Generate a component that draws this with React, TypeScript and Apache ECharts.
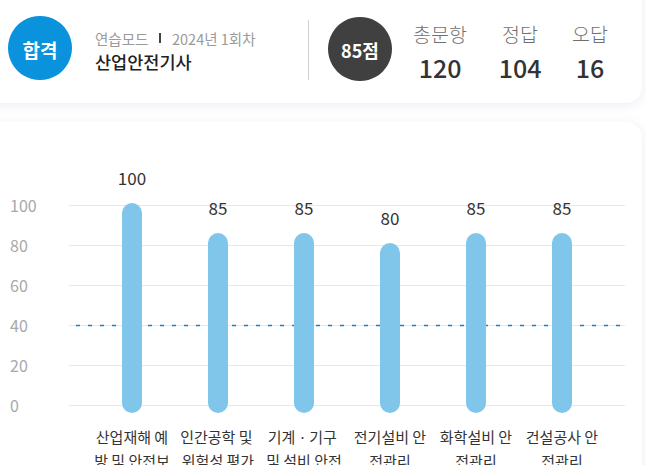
import React, { useEffect, useRef } from "react";
import * as echarts from "echarts";

const FONT = "'Noto Sans CJK KR', 'Noto Sans', sans-serif";

const categories = [
  "산업재해 예방 및 안전보건교육",
  "인간공학 및 위험성 평가ㆍ관리",
  "기계ㆍ기구 및 설비 안전관리",
  "전기설비 안전관리",
  "화학설비 안전관리",
  "건설공사 안전관리",
];
const scores = [100, 85, 85, 80, 85, 85];
const yMin = 0;
const yMax = 100;
const yInterval = 20;
const passLine = 40;

const resultText = "합격";
const modeText = "연습모드";
const roundText = "2024년 1회차";
const examTitle = "산업안전기사";
const scoreText = "85점";
const summaryLabels = ["총문항", "정답", "오답"];
const summaryValues = [120, 104, 16];
const summaryX = [440, 520, 590];

export default function App() {
  const ref = useRef<HTMLDivElement>(null);

  useEffect(() => {
    if (!ref.current) return;
    const chart = echarts.init(ref.current, undefined, { renderer: "svg" });

    const headerGraphics: any[] = [
      { type: "circle", shape: { cx: 40, cy: 48, r: 32 }, style: { fill: "#0a93dc" } },
      {
        type: "text", x: 40, y: 49,
        style: { text: resultText, fill: "#fff", fontSize: 19, fontWeight: "bold", fontFamily: FONT, align: "center", verticalAlign: "middle" },
      },
      {
        type: "text", x: 95, y: 38,
        style: { text: modeText, fill: "#9a9a9a", fontSize: 14.5, fontFamily: FONT, align: "left", verticalAlign: "middle" },
      },
      { type: "rect", shape: { x: 159, y: 33, width: 2, height: 10 }, style: { fill: "#444" } },
      {
        type: "text", x: 172, y: 38,
        style: { text: roundText, fill: "#9a9a9a", fontSize: 14.5, fontFamily: FONT, align: "left", verticalAlign: "middle" },
      },
      {
        type: "text", x: 95, y: 61,
        style: { text: examTitle, fill: "#222", fontSize: 17.5, fontWeight: 500, fontFamily: FONT, align: "left", verticalAlign: "middle" },
      },
      { type: "rect", shape: { x: 308, y: 20, width: 1, height: 60 }, style: { fill: "#d0d0d0" } },
      { type: "circle", shape: { cx: 360, cy: 49, r: 32 }, style: { fill: "#404040" } },
      {
        type: "text", x: 360, y: 50,
        style: { text: scoreText, fill: "#fff", fontSize: 18, fontWeight: "bold", fontFamily: FONT, align: "center", verticalAlign: "middle" },
      },
    ];
    summaryLabels.forEach((lab, i) => {
      headerGraphics.push({
        type: "text", x: summaryX[i], y: 33,
        style: { text: lab, fill: "#707070", fontSize: 19.5, fontWeight: 300, fontFamily: FONT, align: "center", verticalAlign: "middle" },
      });
      headerGraphics.push({
        type: "text", x: summaryX[i], y: 67,
        style: { text: String(summaryValues[i]), fill: "#333", fontSize: 25, fontWeight: 500, fontFamily: FONT, align: "center", verticalAlign: "middle" },
      });
    });

    const gridBase = { top: 205, bottom: 60, outerBoundsMode: "none", containLabel: false };

    const option: any = {
      animation: false,
      textStyle: { fontFamily: FONT },
      graphic: { elements: headerGraphics },
      grid: [
        { ...gridBase, left: 69, right: 21 },
        { ...gridBase, left: 89, right: 41 },
        { ...gridBase, top: 205.5, bottom: 59.5, left: 76, right: 21 },
      ],
      xAxis: [
        { gridIndex: 0, type: "value", min: 0, max: 1, show: false },
        {
          gridIndex: 1, type: "category", data: categories,
          axisLine: { show: false }, axisTick: { show: false },
          axisLabel: {
            interval: 0, width: 84, overflow: "break", fontSize: 15, lineHeight: 24,
            color: "#333", margin: 19, fontFamily: FONT,
          },
        },
        { gridIndex: 2, type: "value", min: 0, max: 1, show: false },
      ],
      yAxis: [
        {
          gridIndex: 0, type: "value", min: yMin, max: yMax, interval: yInterval,
          axisLine: { show: false }, axisTick: { show: false },
          splitLine: { lineStyle: { color: "#e8e8e8", width: 1 } },
          axisLabel: { align: "left", margin: 59, color: "#a8a8a8", fontSize: 16, fontFamily: FONT },
        },
        { gridIndex: 1, type: "value", min: yMin, max: yMax, interval: yInterval, show: false },
        { gridIndex: 2, type: "value", min: yMin, max: yMax, interval: yInterval, show: false },
      ],
      series: [
        {
          type: "line", xAxisIndex: 2, yAxisIndex: 2, z: 1,
          data: [[0, passLine], [1, passLine]],
          symbol: "none", silent: true,
          lineStyle: { color: "#1683c8", width: 1.3, type: [4, 8] },
        },
        {
          type: "custom", xAxisIndex: 1, yAxisIndex: 1, z: 5,
          data: scores.map((v, i) => [i, v]),
          encode: { x: 0, y: 1 },
          renderItem: (params: any, api: any) => {
            const idx = api.value(0);
            const v = api.value(1);
            const top = api.coord([idx, v]);
            const base = api.coord([idx, 0]);
            const y0 = top[1] - 2;
            const y1 = base[1] + 8;
            return {
              type: "group",
              children: [
                {
                  type: "rect",
                  shape: { x: top[0] - 10, y: y0, width: 20, height: y1 - y0, r: 10 },
                  style: { fill: "#80c6ea" },
                },
                {
                  type: "text", x: top[0], y: y0 - 26,
                  style: {
                    text: String(v), fill: "#333", fontSize: 17, fontFamily: FONT,
                    align: "center", verticalAlign: "middle",
                  },
                },
              ],
            };
          },
        },
      ],
    };
    chart.setOption(option);
    return () => chart.dispose();
  }, []);

  const card: React.CSSProperties = {
    position: "absolute",
    left: -30,
    width: 672,
    background: "#fff",
    borderRadius: 16,
    boxShadow: "0 2px 12px rgba(60,80,140,0.10)",
  };

  return (
    <div style={{ position: "fixed", left: 0, top: 0, width: 646, height: 465, overflow: "hidden", background: "#fff" }}>
      <div style={{ ...card, top: -30, height: 133 }} />
      <div style={{ ...card, top: 122, height: 420 }} />
      <div ref={ref} style={{ position: "absolute", left: 0, top: 0, width: 646, height: 465 }} />
    </div>
  );
}
